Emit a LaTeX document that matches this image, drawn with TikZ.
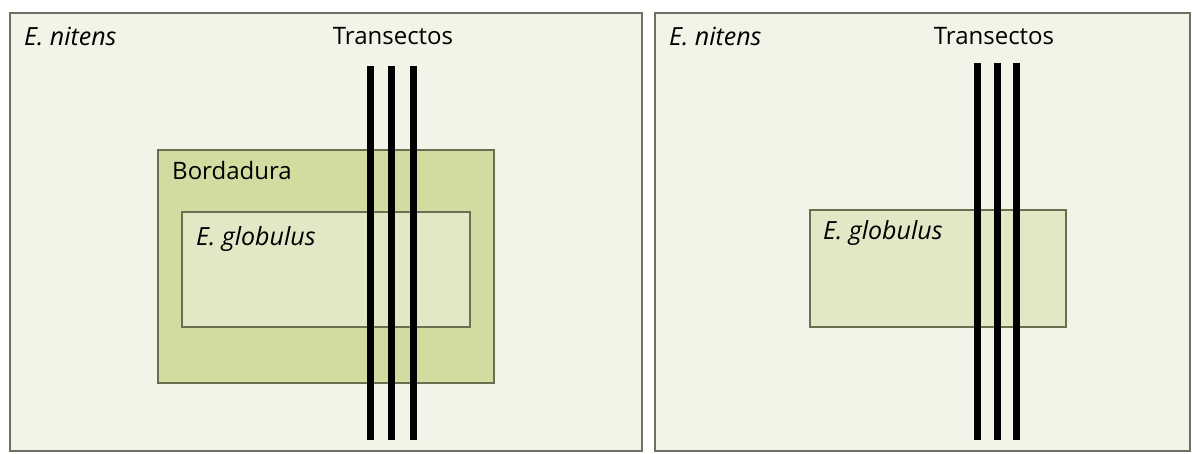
\documentclass[tikz,border=0pt]{standalone}
\usepackage{fontspec}
\setmainfont{Open Sans}
\usetikzlibrary{positioning}
\definecolor{fondo}{HTML}{F2F4E7}
\definecolor{marco}{HTML}{707064}
\definecolor{borde}{HTML}{6A6F52}
\definecolor{bordfill}{HTML}{D4DBA0}
\definecolor{globfill}{HTML}{E3E7C6}

\begin{document}
\begin{tikzpicture}[
  x=1pt, y=-1pt,
  every node/.style={font=\fontsize{24}{28}\selectfont, inner sep=0pt},
  panel/.style={draw=marco, line width=1.4pt, fill=fondo},
  parcela/.style={draw=borde, line width=2.4pt},
  transecto/.style={line width=7pt, black},
  etiq/.style={anchor=west},
  cursiva/.style={etiq, font=\fontsize{25}{28}\selectfont\itshape}
]
\useasboundingbox (0,0) rectangle (1192,453);
\fill[white] (0,0) rectangle (1192,453);

% panel izquierdo: con bordadura
\draw[panel] (10,13) rectangle (642,451);
\node[cursiva] (nit1) at (24,36) {E. nitens};
\node (tr1) at (393,36) {Transectos};
\draw[parcela, fill=bordfill] (158,150) rectangle (494,383);
\node[etiq] (bord) at (172,170) {Bordadura};
\draw[parcela, fill=globfill] (182,212) rectangle (470,327);
\node[cursiva] (glob1) at (196,239) {E. globulus};
\foreach \x in {370,391,413}
  \draw[transecto] (\x,66) -- (\x,440);

% panel derecho: sin bordadura
\draw[panel] (655,13) rectangle (1190,451);
\node[cursiva] (nit2) at (669,36) {E. nitens};
\node (tr2) at (994,36) {Transectos};
\draw[parcela, fill=globfill] (810,210) rectangle (1066,327);
\node[cursiva] (glob2) at (823,233) {E. globulus};
\foreach \x in {977,997,1016}
  \draw[transecto] (\x,63) -- (\x,440);
\end{tikzpicture}
\end{document}
